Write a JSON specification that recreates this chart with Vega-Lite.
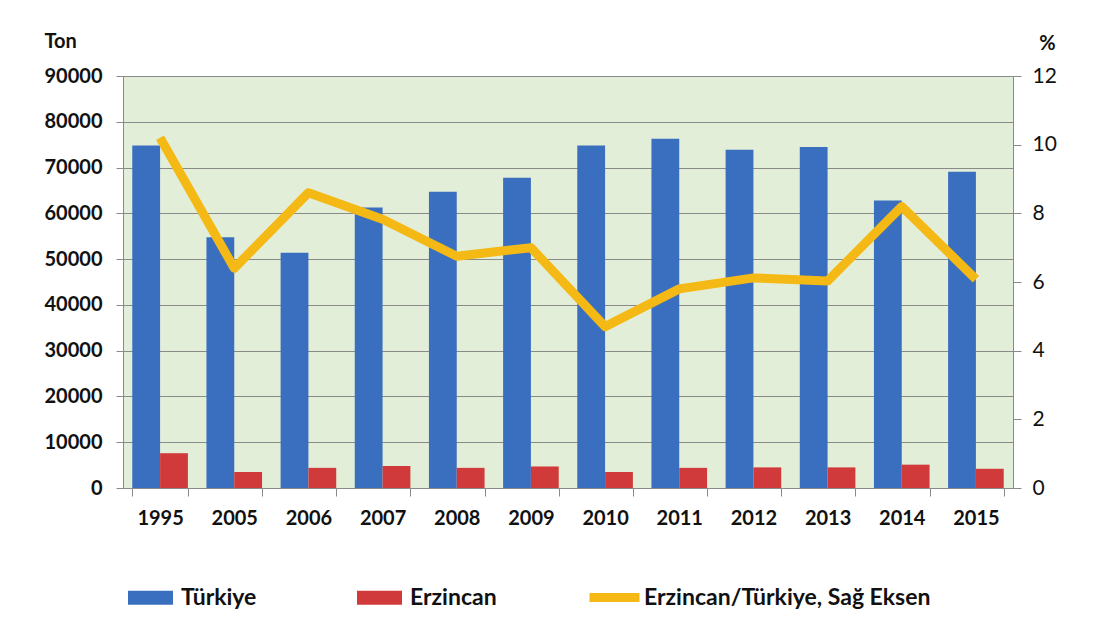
{
  "$schema": "https://vega.github.io/schema/vega-lite/v6.json",
  "width": 890,
  "height": 412,
  "autosize": {"type": "none"},
  "padding": {"left": 123, "top": 76, "right": 87, "bottom": 141},
  "background": "white",
  "config": {
    "font": "Lato",
    "view": {"fill": "#e3eed9", "stroke": null},
    "axis": {
      "domainColor": "#8a8a8a",
      "tickColor": "#8a8a8a",
      "gridColor": "#8a8a8a",
      "labelColor": "#111111",
      "titleColor": "#111111",
      "labelFont": "Lato",
      "titleFont": "Lato"
    },
    "legend": {"padding": 0, "labelFont": "Lato", "labelFontSize": 23, "labelFontWeight": "bold", "labelColor": "#111111", "labelLimit": 400}
  },
  "datasets": {
    "bars": [
      {"year": "1995", "series": "Türkiye", "ton": 74800},
      {"year": "1995", "series": "Erzincan", "ton": 7600},
      {"year": "2005", "series": "Türkiye", "ton": 54800},
      {"year": "2005", "series": "Erzincan", "ton": 3500},
      {"year": "2006", "series": "Türkiye", "ton": 51400},
      {"year": "2006", "series": "Erzincan", "ton": 4400},
      {"year": "2007", "series": "Türkiye", "ton": 61300},
      {"year": "2007", "series": "Erzincan", "ton": 4800},
      {"year": "2008", "series": "Türkiye", "ton": 64700},
      {"year": "2008", "series": "Erzincan", "ton": 4400},
      {"year": "2009", "series": "Türkiye", "ton": 67800},
      {"year": "2009", "series": "Erzincan", "ton": 4700},
      {"year": "2010", "series": "Türkiye", "ton": 74800},
      {"year": "2010", "series": "Erzincan", "ton": 3500},
      {"year": "2011", "series": "Türkiye", "ton": 76300},
      {"year": "2011", "series": "Erzincan", "ton": 4400},
      {"year": "2012", "series": "Türkiye", "ton": 73900},
      {"year": "2012", "series": "Erzincan", "ton": 4500},
      {"year": "2013", "series": "Türkiye", "ton": 74500},
      {"year": "2013", "series": "Erzincan", "ton": 4500},
      {"year": "2014", "series": "Türkiye", "ton": 62800},
      {"year": "2014", "series": "Erzincan", "ton": 5100},
      {"year": "2015", "series": "Türkiye", "ton": 69100},
      {"year": "2015", "series": "Erzincan", "ton": 4200}
    ],
    "ratio": [
      {"year": "1995", "series": "Erzincan/Türkiye, Sağ Eksen", "ratio": 10.2},
      {"year": "2005", "series": "Erzincan/Türkiye, Sağ Eksen", "ratio": 6.4},
      {"year": "2006", "series": "Erzincan/Türkiye, Sağ Eksen", "ratio": 8.6},
      {"year": "2007", "series": "Erzincan/Türkiye, Sağ Eksen", "ratio": 7.83},
      {"year": "2008", "series": "Erzincan/Türkiye, Sağ Eksen", "ratio": 6.75},
      {"year": "2009", "series": "Erzincan/Türkiye, Sağ Eksen", "ratio": 7.0},
      {"year": "2010", "series": "Erzincan/Türkiye, Sağ Eksen", "ratio": 4.7},
      {"year": "2011", "series": "Erzincan/Türkiye, Sağ Eksen", "ratio": 5.8},
      {"year": "2012", "series": "Erzincan/Türkiye, Sağ Eksen", "ratio": 6.12},
      {"year": "2013", "series": "Erzincan/Türkiye, Sağ Eksen", "ratio": 6.03},
      {"year": "2014", "series": "Erzincan/Türkiye, Sağ Eksen", "ratio": 8.2},
      {"year": "2015", "series": "Erzincan/Türkiye, Sağ Eksen", "ratio": 6.08}
    ]
  },
  "encoding": {
    "x": {
      "field": "year",
      "type": "ordinal",
      "scale": {"paddingInner": 0.25, "paddingOuter": 0.125},
      "axis": {
        "title": null,
        "labelAngle": 0,
        "labelFontSize": 20,
        "labelFontWeight": "bold",
        "tickBand": "extent",
        "tickSize": 8,
        "labelPadding": 12,
        "domainWidth": 1
      }
    }
  },
  "layer": [
    {
      "data": {"name": "bars"},
      "mark": {"type": "bar"},
      "encoding": {
        "xOffset": {"field": "series", "type": "nominal", "sort": ["Türkiye", "Erzincan"], "scale": {"paddingInner": 0, "paddingOuter": 0}},
        "y": {
          "field": "ton",
          "type": "quantitative",
          "scale": {"domain": [0, 90000], "nice": false},
          "axis": {
            "title": "Ton",
            "titleAngle": 0,
            "titleAlign": "left",
            "titleBaseline": "middle",
            "titleX": -79,
            "titleY": -35,
            "titleFontSize": 20,
            "titleFontWeight": "bold",
            "values": [0, 10000, 20000, 30000, 40000, 50000, 60000, 70000, 80000, 90000],
            "format": "d",
            "labelFontSize": 20,
            "labelFontWeight": "bold",
            "labelPadding": 14,
            "tickSize": 7,
            "grid": true,
            "gridWidth": 1.2
          }
        },
        "fill": {
          "field": "series",
          "type": "nominal",
          "scale": {"domain": ["Türkiye", "Erzincan"], "range": ["#3a6fc0", "#d13a3a"]},
          "legend": {
            "title": null,
            "orient": "none",
            "legendX": 5,
            "legendY": 499,
            "direction": "horizontal",
            "columns": 2,
            "columnPadding": 100,
            "symbolType": "M-1,-0.31H1V0.31H-1Z",
            "symbolSize": 2025,
            "symbolStrokeWidth": 0,
            "labelOffset": 8
          }
        }
      }
    },
    {
      "data": {"name": "ratio"},
      "mark": {"type": "line", "strokeWidth": 9, "strokeJoin": "round", "strokeCap": "butt"},
      "encoding": {
        "y": {
          "field": "ratio",
          "type": "quantitative",
          "scale": {"domain": [0, 12], "nice": false},
          "axis": {
            "orient": "right",
            "title": "%",
            "titleAngle": 0,
            "titleAlign": "center",
            "titleBaseline": "middle",
            "titleX": 34,
            "titleY": -33,
            "titleFontSize": 20,
            "titleFontWeight": "bold",
            "values": [0, 2, 4, 6, 8, 10, 12],
            "labelFontSize": 21,
            "labelFontWeight": "normal",
            "labelPadding": 11,
            "tickSize": 8,
            "grid": false
          }
        },
        "stroke": {
          "field": "series",
          "type": "nominal",
          "scale": {"domain": ["Erzincan/Türkiye, Sağ Eksen"], "range": ["#f4b914"]},
          "legend": {
            "title": null,
            "orient": "none",
            "legendX": 462,
            "legendY": 492,
            "symbolType": "stroke",
            "symbolSize": 2500,
            "symbolStrokeWidth": 9,
            "labelOffset": 0
          }
        }
      }
    }
  ],
  "resolve": {"scale": {"y": "independent"}}
}
